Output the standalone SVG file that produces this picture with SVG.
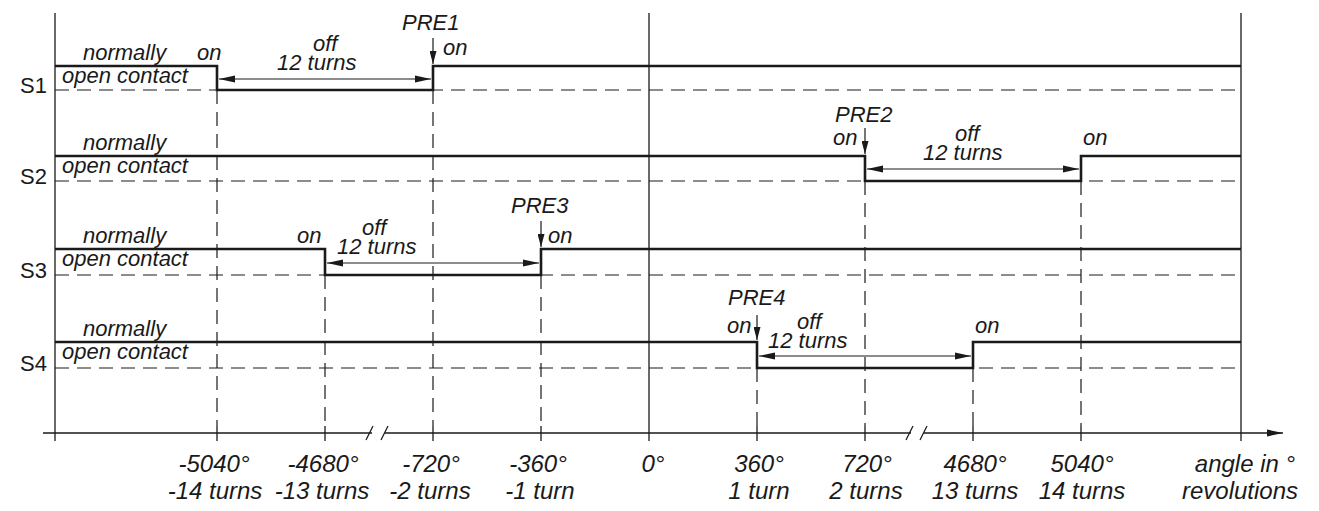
<svg xmlns="http://www.w3.org/2000/svg" width="1319" height="511" viewBox="0 0 1319 511">
<style>
.bg{fill:#fff}
.frame{stroke:#1a1a1a;stroke-width:1.3;fill:none}
.sig{stroke:#1a1a1a;stroke-width:2.6;fill:none;stroke-linejoin:miter}
.dash{stroke:#1a1a1a;stroke-width:1.2;fill:none;stroke-dasharray:14 8}
.dim{stroke:#1a1a1a;stroke-width:1.2;fill:none}
.it{font-family:"Liberation Sans",Arial,sans-serif;font-style:italic;font-size:22px;fill:#1a1a1a}
.ax{font-family:"Liberation Sans",Arial,sans-serif;font-style:italic;font-size:24px;fill:#1a1a1a;text-anchor:middle}
.sl{font-family:"Liberation Sans",Arial,sans-serif;font-size:22px;fill:#1a1a1a}
</style>
<defs>
<marker id="ah" viewBox="0 0 16 8" refX="16" refY="4" markerWidth="16" markerHeight="8" markerUnits="userSpaceOnUse" orient="auto-start-reverse">
<path d="M0,0.5 L16,4 L0,7.5 Z" fill="#1a1a1a"/>
</marker>
<marker id="pa" viewBox="0 0 13 7" refX="13" refY="3.5" markerWidth="13" markerHeight="7" markerUnits="userSpaceOnUse" orient="auto">
<path d="M0,0 L13,3.5 L0,7 Z" fill="#1a1a1a"/>
</marker>
</defs>
<rect class="bg" x="0" y="0" width="1319" height="511"/>

<g id="axes">
<line class="frame" x1="55" y1="13" x2="55" y2="441"/>
<line class="frame" x1="649" y1="13" x2="649" y2="441"/>
<line class="frame" x1="1241" y1="13" x2="1241" y2="441"/>
<line class="frame" x1="43" y1="433" x2="372" y2="433"/>
<line class="frame" x1="385" y1="433" x2="911" y2="433"/>
<line class="frame" x1="924" y1="433" x2="1283" y2="433" marker-end="url(#ah)"/>
<line class="frame" x1="366" y1="440" x2="373" y2="426"/>
<line class="frame" x1="381" y1="440" x2="388" y2="426"/>
<line class="frame" x1="906" y1="440" x2="913" y2="426"/>
<line class="frame" x1="920" y1="440" x2="927" y2="426"/>
<g class="frame">
<line x1="217" y1="426" x2="217" y2="441"/>
<line x1="325" y1="426" x2="325" y2="441"/>
<line x1="433" y1="426" x2="433" y2="441"/>
<line x1="541" y1="426" x2="541" y2="441"/>
<line x1="757" y1="426" x2="757" y2="441"/>
<line x1="865" y1="426" x2="865" y2="441"/>
<line x1="973" y1="426" x2="973" y2="441"/>
<line x1="1081" y1="426" x2="1081" y2="441"/>
</g>
</g>

<g id="connectors">
<g class="dash">
<line x1="55" y1="90" x2="1241" y2="90"/>
<line x1="55" y1="181" x2="1241" y2="181"/>
<line x1="55" y1="275" x2="1241" y2="275"/>
<line x1="55" y1="368" x2="1241" y2="368"/>
<line x1="217" y1="90" x2="217" y2="426"/>
<line x1="433" y1="90" x2="433" y2="426"/>
<line x1="865" y1="181" x2="865" y2="426"/>
<line x1="1081" y1="181" x2="1081" y2="426"/>
<line x1="325" y1="275" x2="325" y2="426"/>
<line x1="541" y1="275" x2="541" y2="426"/>
<line x1="757" y1="368" x2="757" y2="426"/>
<line x1="973" y1="368" x2="973" y2="426"/>
</g>
</g>

<g id="S1">
<text class="sl" x="20" y="93">S1</text>
<polyline class="sig" points="55,66 217,66 217,90 433,90 433,66 1241,66"/>
<line class="dim" x1="219" y1="79" x2="431" y2="79" marker-start="url(#ah)" marker-end="url(#ah)"/>
<line class="dim" x1="433" y1="38" x2="433" y2="64" marker-end="url(#pa)"/>
<text class="it" x="83" y="60">normally</text>
<text class="it" x="62" y="83">open contact</text>
<text class="it" x="197" y="60">on</text>
<text class="it" x="313" y="51">off</text>
<text class="it" x="277" y="70">12 turns</text>
<text class="it" x="402" y="30">PRE1</text>
<text class="it" x="443" y="55">on</text>
</g>

<g id="S2">
<text class="sl" x="20" y="184">S2</text>
<polyline class="sig" points="55,156 865,156 865,181 1081,181 1081,156 1241,156"/>
<line class="dim" x1="867" y1="169" x2="1079" y2="169" marker-start="url(#ah)" marker-end="url(#ah)"/>
<line class="dim" x1="865" y1="128" x2="865" y2="154" marker-end="url(#pa)"/>
<text class="it" x="83" y="150">normally</text>
<text class="it" x="62" y="173">open contact</text>
<text class="it" x="835" y="122">PRE2</text>
<text class="it" x="833" y="145">on</text>
<text class="it" x="955" y="141">off</text>
<text class="it" x="923" y="160">12 turns</text>
<text class="it" x="1083" y="145">on</text>
</g>

<g id="S3">
<text class="sl" x="20" y="278">S3</text>
<polyline class="sig" points="55,249 325,249 325,275 541,275 541,249 1241,249"/>
<line class="dim" x1="327" y1="263" x2="539" y2="263" marker-start="url(#ah)" marker-end="url(#ah)"/>
<line class="dim" x1="541" y1="221" x2="541" y2="247" marker-end="url(#pa)"/>
<text class="it" x="83" y="243">normally</text>
<text class="it" x="62" y="266">open contact</text>
<text class="it" x="297" y="243">on</text>
<text class="it" x="362" y="235">off</text>
<text class="it" x="337" y="254">12 turns</text>
<text class="it" x="511" y="213">PRE3</text>
<text class="it" x="548" y="243">on</text>
</g>

<g id="S4">
<text class="sl" x="20" y="371">S4</text>
<polyline class="sig" points="55,342 757,342 757,368 973,368 973,342 1241,342"/>
<line class="dim" x1="759" y1="356" x2="971" y2="356" marker-start="url(#ah)" marker-end="url(#ah)"/>
<line class="dim" x1="757" y1="315" x2="757" y2="340" marker-end="url(#pa)"/>
<text class="it" x="83" y="336">normally</text>
<text class="it" x="62" y="359">open contact</text>
<text class="it" x="728" y="305">PRE4</text>
<text class="it" x="727" y="333">on</text>
<text class="it" x="797" y="329">off</text>
<text class="it" x="768" y="348">12 turns</text>
<text class="it" x="975" y="333">on</text>
</g>

<g id="labels">
<text class="ax" x="214" y="472">-5040°</text>
<text class="ax" x="215" y="499">-14 turns</text>
<text class="ax" x="323" y="472">-4680°</text>
<text class="ax" x="322" y="499">-13 turns</text>
<text class="ax" x="431" y="472">-720°</text>
<text class="ax" x="430" y="499">-2 turns</text>
<text class="ax" x="538" y="472">-360°</text>
<text class="ax" x="540" y="499">-1 turn</text>
<text class="ax" x="653" y="472">0°</text>
<text class="ax" x="759" y="472">360°</text>
<text class="ax" x="759" y="499">1 turn</text>
<text class="ax" x="867" y="472">720°</text>
<text class="ax" x="866" y="499">2 turns</text>
<text class="ax" x="975" y="472">4680°</text>
<text class="ax" x="975" y="499">13 turns</text>
<text class="ax" x="1082" y="472">5040°</text>
<text class="ax" x="1082" y="499">14 turns</text>
<text class="ax" x="1245" y="472">angle in °</text>
<text class="ax" x="1240" y="499">revolutions</text>
</g>
</svg>
